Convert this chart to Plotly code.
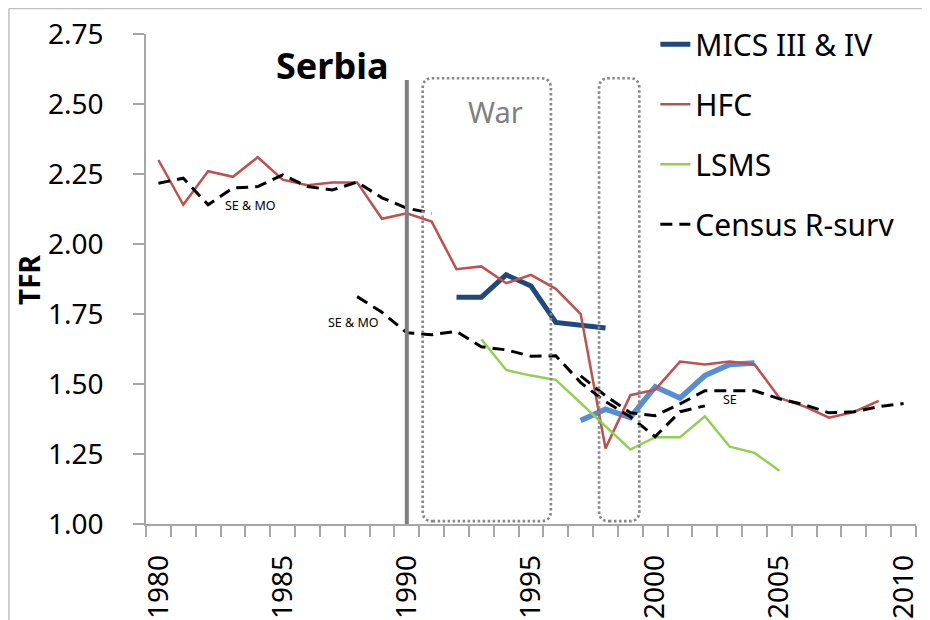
import plotly.graph_objects as go

# ---------------- data ----------------
hfc_years = list(range(1980, 2010))
hfc_tfr = [2.30, 2.14, 2.26, 2.24, 2.31, 2.23, 2.21, 2.22, 2.22, 2.09,
           2.11, 2.08, 1.91, 1.92, 1.86, 1.89, 1.84, 1.75, 1.27, 1.46,
           1.48, 1.58, 1.57, 1.58, 1.57, 1.45, 1.42, 1.38, 1.40, 1.44]

mics_years = [1992, 1993, 1994, 1995, 1996, 1997, 1998]
mics_tfr = [1.81, 1.81, 1.89, 1.85, 1.72, 1.71, 1.70]

mics2_years = [1997, 1998, 1999, 2000, 2001, 2002, 2003, 2004]
mics2_tfr = [1.37, 1.41, 1.38, 1.49, 1.45, 1.53, 1.57, 1.575]

lsms_years = [1993, 1994, 1995, 1996, 1999, 2000, 2001, 2002, 2003, 2004, 2005]
lsms_tfr = [1.66, 1.55, 1.53, 1.515, 1.266, 1.31, 1.31, 1.385, 1.276, 1.254, 1.19]

census_a_years = list(range(1980, 1992))
census_a_tfr = [2.217, 2.235, 2.14, 2.20, 2.205, 2.247, 2.205, 2.193, 2.221, 2.165, 2.128, 2.11]

census_b_years = list(range(1988, 2003))
census_b_tfr = [1.812, 1.756, 1.683, 1.676, 1.688, 1.633, 1.622, 1.599, 1.601, 1.505,
                1.437, 1.383, 1.312, 1.401, 1.422]

census_c_years = list(range(1997, 2011))
census_c_tfr = [1.529, 1.458, 1.397, 1.387, 1.429, 1.476, 1.476, 1.476, 1.447, 1.426,
                1.397, 1.401, 1.419, 1.430]

y_ticks = [1.00, 1.25, 1.50, 1.75, 2.00, 2.25, 2.50, 2.75]
x_ticks = [1980, 1985, 1990, 1995, 2000, 2005, 2010]

FONT = "Noto Sans"
GRAY_AX = "#A6A6A6"
DASH = "12px,7px"

fig = go.Figure()

fig.add_trace(go.Scatter(x=mics_years, y=mics_tfr, mode="lines", name="MICS III & IV",
                         line=dict(color="#1F497D", width=5), legendgroup="g1"))
fig.add_trace(go.Scatter(x=mics2_years, y=mics2_tfr, mode="lines", showlegend=False,
                         line=dict(color="#558ED5", width=5.5), legendgroup="g1"))
fig.add_trace(go.Scatter(x=hfc_years, y=hfc_tfr, mode="lines", name="HFC",
                         line=dict(color="#C0504D", width=2.5), legendgroup="g2"))
fig.add_trace(go.Scatter(x=lsms_years, y=lsms_tfr, mode="lines", name="LSMS",
                         line=dict(color="#92D050", width=2.5), legendgroup="g3"))
fig.add_trace(go.Scatter(x=census_a_years, y=census_a_tfr, mode="lines", name="Census R-surv",
                         line=dict(color="black", width=3, dash=DASH), legendgroup="g4"))
fig.add_trace(go.Scatter(x=census_b_years, y=census_b_tfr, mode="lines", showlegend=False,
                         line=dict(color="black", width=3, dash=DASH), legendgroup="g4"))
fig.add_trace(go.Scatter(x=census_c_years, y=census_c_tfr, mode="lines", showlegend=False,
                         line=dict(color="black", width=3, dash=DASH), legendgroup="g4"))


def rounded_box(x0, x1, y0, y1, rx, ry):
    return (f"M {x0+rx},{y0} L {x1-rx},{y0} Q {x1},{y0} {x1},{y0+ry} "
            f"L {x1},{y1-ry} Q {x1},{y1} {x1-rx},{y1} L {x0+rx},{y1} "
            f"Q {x0},{y1} {x0},{y1-ry} L {x0},{y0+ry} Q {x0},{y0} {x0+rx},{y0} Z")


box_line = dict(color="#888888", width=2.7, dash="2.5px,2.5px")
shapes = [
    dict(type="path", xref="x", yref="y",
         path=rounded_box(1990.64, 1995.80, 1.01, 2.592, 0.4, 0.036), line=box_line),
    dict(type="path", xref="x", yref="y",
         path=rounded_box(1997.74, 1999.36, 1.01, 2.592, 0.4, 0.036), line=box_line),
    dict(type="line", xref="x", yref="y", x0=1990, x1=1990, y0=1.0, y1=2.586,
         line=dict(color="#7F7F7F", width=4)),
    # outer chart frame (top & left edges visible)
    dict(type="line", xref="paper", yref="paper", x0=-0.178, x1=1.1, y0=1.052, y1=1.052,
         line=dict(color="#BFBFBF", width=1.5)),
    dict(type="line", xref="paper", yref="paper", x0=-0.178, x1=-0.178, y0=-0.3, y1=1.052,
         line=dict(color="#BFBFBF", width=1.5)),
]

annotations = [
    dict(text="<b>Serbia</b>", x=1987.02, y=2.639, xref="x", yref="y", showarrow=False,
         font=dict(family=FONT, size=36, color="black")),
    dict(text="War", x=1993.58, y=2.4725, xref="x", yref="y", showarrow=False,
         font=dict(family=FONT, size=29, color="#808080")),
    dict(text="SE &amp; MO", x=1983.71, y=2.137, xref="x", yref="y", showarrow=False,
         font=dict(family=FONT, size=12.5, color="black")),
    dict(text="SE &amp; MO", x=1987.84, y=1.719, xref="x", yref="y", showarrow=False,
         font=dict(family=FONT, size=12.5, color="black")),
    dict(text="SE", x=2003.01, y=1.443, xref="x", yref="y", showarrow=False,
         font=dict(family=FONT, size=12.5, color="black")),
    dict(text="<b>TFR</b>", x=-0.152, y=0.5, xref="paper", yref="paper", showarrow=False,
         xanchor="center", yanchor="middle",
         textangle=-90, font=dict(family=FONT, size=28, color="black")),
]

# page body has an 8px default margin, so the figure is 922x612 and offsets are -8px
fig.update_layout(
    width=922, height=612,
    margin=dict(l=138, r=14, t=26, b=96, autoexpand=False),
    paper_bgcolor="white", plot_bgcolor="white",
    font=dict(family=FONT, size=28, color="black"),
    shapes=shapes, annotations=annotations,
    legend=dict(x=0.6615, y=1.032, xanchor="left", yanchor="top",
                font=dict(family=FONT, size=30, color="black"),
                bgcolor="rgba(0,0,0,0)", tracegroupgap=18, itemwidth=30),
    showlegend=True,
)

fig.update_xaxes(range=[1979.5, 2010.5], tickmode="array", tickvals=x_ticks,
                 ticktext=[str(v) for v in x_ticks], tickangle=-90, ticks="",
                 ticklabelstandoff=18,
                 showline=True, linecolor=GRAY_AX, linewidth=1.5, showgrid=False, zeroline=False,
                 tickfont=dict(family=FONT, size=28, color="black"),
                 minor=dict(tickmode="linear", tick0=1979.5, dtick=1, ticks="outside",
                            ticklen=11, tickcolor=GRAY_AX, tickwidth=1.5, showgrid=False))
fig.update_yaxes(range=[1.0, 2.75], tickmode="array", tickvals=y_ticks,
                 ticktext=[f"{v:.2f}" for v in y_ticks], ticks="outside", ticklen=11,
                 tickcolor=GRAY_AX, tickwidth=1.5, ticklabelstandoff=24,
                 showline=True, linecolor=GRAY_AX, linewidth=1.5, showgrid=False, zeroline=False,
                 tickfont=dict(family=FONT, size=28, color="black"))

fig.write_html("out.html")
